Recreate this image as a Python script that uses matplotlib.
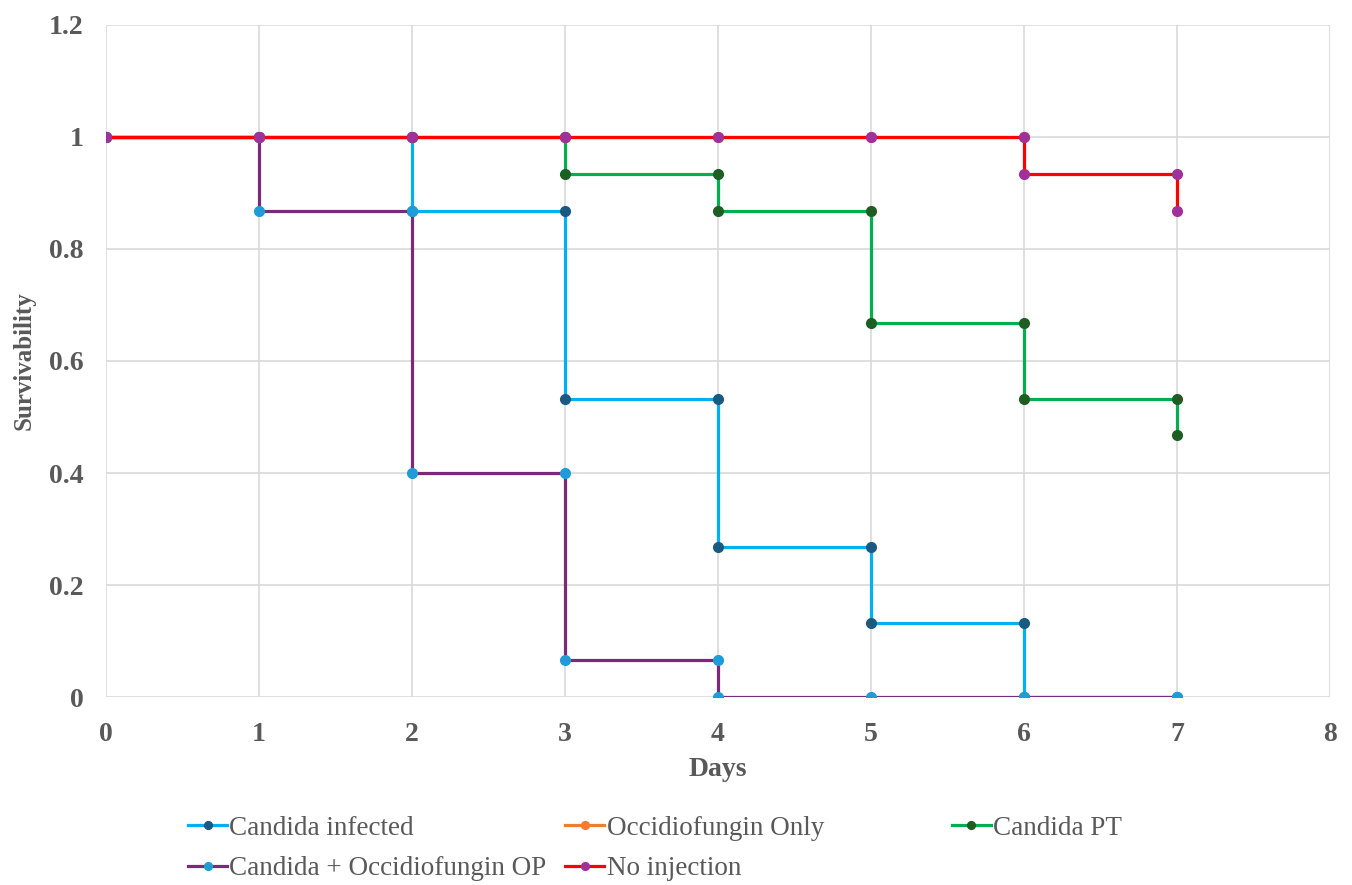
import matplotlib.pyplot as plt

plt.rcParams['font.family'] = ['Liberation Serif', 'DejaVu Serif']

# step-survival data (x repeated at each drop)
inf_x = [0, 1, 2, 2, 3, 3, 4, 4, 5, 5, 6, 6, 7]
inf_y = [1, 1, 1, 0.867, 0.867, 0.533, 0.533, 0.267, 0.267, 0.133, 0.133, 0, 0]

only_x = [0, 1, 2, 3, 4, 5, 6]
only_y = [1, 1, 1, 1, 1, 1, 1]

pt_x = [0, 1, 2, 3, 3, 4, 4, 5, 5, 6, 6, 7, 7]
pt_y = [1, 1, 1, 1, 0.933, 0.933, 0.867, 0.867, 0.667, 0.667, 0.533, 0.533, 0.467]

op_x = [0, 1, 1, 2, 2, 3, 3, 4, 4, 5, 6, 7]
op_y = [1, 1, 0.867, 0.867, 0.4, 0.4, 0.067, 0.067, 0, 0, 0, 0]

noinj_x = [0, 1, 2, 3, 4, 5, 6, 6, 7, 7]
noinj_y = [1, 1, 1, 1, 1, 1, 1, 0.933, 0.933, 0.867]

fig = plt.figure(figsize=(13.52, 8.85), dpi=100)
ax = fig.add_axes([0.0784, 0.2124, 0.9053, 0.7594])

lw = 2.3
ms = 7
h_inf, = ax.plot(inf_x, inf_y, color='#00B0F0', lw=lw, marker='o', ms=ms,
                 mfc='#1B5A80', mec='#1B5A80', label='Candida infected')
h_only, = ax.plot(only_x, only_y, color='#ED7D31', lw=lw, marker='o', ms=ms,
                  mfc='#ED7D31', mec='#ED7D31', label='Occidiofungin Only')
h_pt, = ax.plot(pt_x, pt_y, color='#00B050', lw=lw, marker='o', ms=ms,
                mfc='#1E5E22', mec='#1E5E22', label='Candida PT')
h_op, = ax.plot(op_x, op_y, color='#7A2A78', lw=lw, marker='o', ms=ms,
                mfc='#1E9CD7', mec='#1E9CD7', label='Candida + Occidiofungin OP')
h_no, = ax.plot(noinj_x, noinj_y, color='#FF0000', lw=lw, marker='o', ms=ms,
                mfc='#A0309A', mec='#A0309A', label='No injection')

ax.set_xlim(0, 8)
ax.set_ylim(0, 1.2)
ax.set_xticks(range(0, 9))
ax.set_yticks([0, 0.2, 0.4, 0.6, 0.8, 1, 1.2])
ax.set_yticklabels(['0', '0.2', '0.4', '0.6', '0.8', '1', '1.2'])
ax.grid(True, color='#D9D9D9', lw=1.2)
ax.set_axisbelow(True)
for s in ax.spines.values():
    s.set_visible(False)
ax.tick_params(length=0, labelsize=20, labelcolor='#595959')
ax.tick_params(axis='x', pad=18)
ax.tick_params(axis='y', pad=16)
for lab in ax.get_xticklabels() + ax.get_yticklabels():
    lab.set_fontweight('bold')

ax.set_xlabel('Days', fontsize=20, fontweight='bold', color='#595959', labelpad=7)
ax.set_ylabel('Survivability', fontsize=18, fontweight='bold', color='#595959', labelpad=10)

# legend columns laid out like the Excel one
leg_kw = dict(frameon=False, fontsize=19.5, labelcolor='#595959', handlelength=1.45,
              handletextpad=0.08, labelspacing=0.58, borderaxespad=0, markerscale=0.8)
cols = [([h_inf, h_op], 0.131), ([h_only, h_no], 0.41), ([h_pt], 0.696)]
for hs, xpos in cols:
    leg = fig.legend(handles=hs, loc='upper left', bbox_to_anchor=(xpos, 0.0905), **leg_kw)

fig.savefig('out.png', dpi=100)
